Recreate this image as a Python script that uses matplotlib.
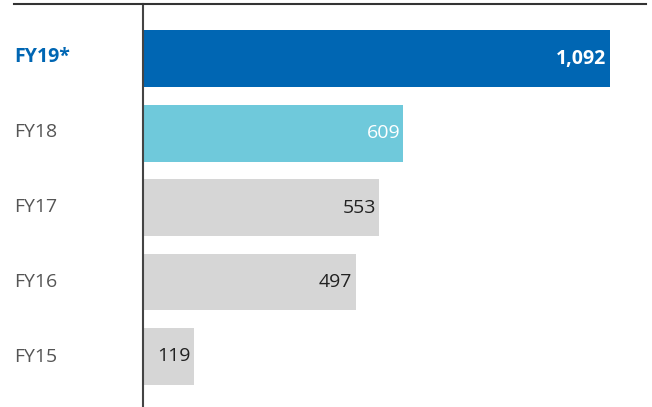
import matplotlib.pyplot as plt
from matplotlib.lines import Line2D

# data
years = ['FY19*', 'FY18', 'FY17', 'FY16', 'FY15']
values = [1092, 609, 553, 497, 119]
bar_colors = ['#0066b3', '#6fc9db', '#d6d6d6', '#d6d6d6', '#d6d6d6']
value_colors = ['white', 'white', '#222222', '#222222', '#222222']

plt.rcParams['font.family'] = ['Open Sans', 'DejaVu Sans']

fig = plt.figure(figsize=(6.52, 4.07), dpi=100)
ax = fig.add_axes([143 / 652, 0, (646 - 143) / 652, 1 - 4 / 407])

pos = list(range(len(years)))
ax.barh(pos, values, height=0.765, color=bar_colors)
ax.set_ylim(len(years) - 1 + 0.678, -0.732)
ax.set_xlim(0, 1092 * 503 / 467)

for i, v in enumerate(values):
    bold = i == 0
    ax.text(v - 8, i, f'{v:,}', ha='right', va='center', fontsize=14,
            color=value_colors[i], fontweight='bold' if bold else 'normal')
    ax.text(14 / 652, 1 - (57 + i * 75) / 407, years[i], transform=fig.transFigure,
            ha='left', va='center', fontsize=14,
            color='#0066b3' if bold else '#555555',
            fontweight='bold' if bold else 'normal')

for s in ['top', 'right', 'bottom']:
    ax.spines[s].set_visible(False)
ax.spines['left'].set_color('#444444')
ax.spines['left'].set_linewidth(1.5)
ax.set_xticks([])
ax.set_yticks([])

fig.add_artist(Line2D([14 / 652, 646 / 652], [1 - 4 / 407] * 2, color='#333333', lw=1.5))

fig.savefig('out.png', dpi=100)
